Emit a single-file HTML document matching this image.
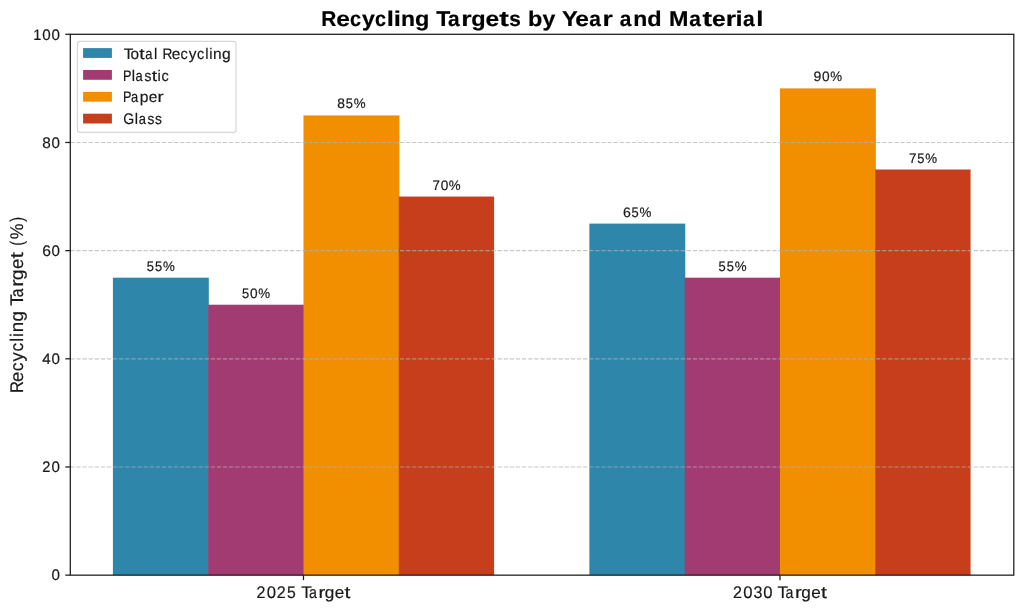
<!DOCTYPE html><html><head><meta charset="utf-8"><style>html,body{margin:0;padding:0;background:#fff;overflow:hidden;}svg{display:block;will-change:transform;}text{font-family:"Liberation Sans", sans-serif;text-rendering:geometricPrecision;white-space:pre;}</style></head><body>
<svg width="1024" height="611" viewBox="0 0 1024 611">
<rect x="0" y="0" width="1024" height="611" fill="#fff"/>
<rect x="112.90" y="277.68" width="95.90" height="297.47" fill="#2E86AB"/>
<rect x="589.38" y="223.60" width="95.90" height="351.55" fill="#2E86AB"/>
<rect x="208.20" y="304.72" width="95.90" height="270.43" fill="#A23B72"/>
<rect x="684.67" y="277.68" width="95.90" height="297.47" fill="#A23B72"/>
<rect x="303.49" y="115.43" width="95.90" height="459.72" fill="#F18F01"/>
<rect x="779.97" y="88.38" width="95.90" height="486.76" fill="#F18F01"/>
<rect x="398.79" y="196.55" width="95.30" height="378.60" fill="#C73E1D"/>
<rect x="875.26" y="169.51" width="95.30" height="405.64" fill="#C73E1D"/>
<line x1="70.30" y1="466.98" x2="1013.80" y2="466.98" stroke="#b0b0b0" stroke-opacity="0.7" stroke-width="1.15" stroke-dasharray="4.261 1.843"/>
<line x1="70.30" y1="358.81" x2="1013.80" y2="358.81" stroke="#b0b0b0" stroke-opacity="0.7" stroke-width="1.15" stroke-dasharray="4.261 1.843"/>
<line x1="70.30" y1="250.64" x2="1013.80" y2="250.64" stroke="#b0b0b0" stroke-opacity="0.7" stroke-width="1.15" stroke-dasharray="4.261 1.843"/>
<line x1="70.30" y1="142.47" x2="1013.80" y2="142.47" stroke="#b0b0b0" stroke-opacity="0.7" stroke-width="1.15" stroke-dasharray="4.261 1.843"/>
<g font-size="13.74" fill="#1a1a1a" stroke="#1a1a1a" stroke-width="0.2"><text transform="translate(146.74,270.68) scale(0.939,1)">5</text><text transform="translate(154.98,270.68) scale(0.939,1)">5</text><text transform="translate(162.98,270.68) scale(0.969,1)">%</text></g>
<g font-size="13.74" fill="#1a1a1a" stroke="#1a1a1a" stroke-width="0.2"><text transform="translate(622.96,216.60) scale(1.029,1)">6</text><text transform="translate(631.51,216.60) scale(0.939,1)">5</text><text transform="translate(639.51,216.60) scale(0.969,1)">%</text></g>
<g font-size="13.74" fill="#1a1a1a" stroke="#1a1a1a" stroke-width="0.2"><text transform="translate(242.03,297.72) scale(0.939,1)">5</text><text transform="translate(250.11,297.72) scale(0.994,1)">0</text><text transform="translate(258.28,297.72) scale(0.969,1)">%</text></g>
<g font-size="13.74" fill="#1a1a1a" stroke="#1a1a1a" stroke-width="0.2"><text transform="translate(718.51,270.68) scale(0.939,1)">5</text><text transform="translate(726.76,270.68) scale(0.939,1)">5</text><text transform="translate(734.76,270.68) scale(0.969,1)">%</text></g>
<g font-size="13.74" fill="#1a1a1a" stroke="#1a1a1a" stroke-width="0.2"><text transform="translate(337.18,108.43) scale(1.005,1)">8</text><text transform="translate(345.63,108.43) scale(0.939,1)">5</text><text transform="translate(353.64,108.43) scale(0.969,1)">%</text></g>
<g font-size="13.74" fill="#1a1a1a" stroke="#1a1a1a" stroke-width="0.2"><text transform="translate(813.57,81.38) scale(1.027,1)">9</text><text transform="translate(821.98,81.38) scale(0.994,1)">0</text><text transform="translate(830.15,81.38) scale(0.969,1)">%</text></g>
<g font-size="13.74" fill="#1a1a1a" stroke="#1a1a1a" stroke-width="0.2"><text transform="translate(432.49,189.55) scale(0.973,1)">7</text><text transform="translate(440.67,189.55) scale(0.994,1)">0</text><text transform="translate(448.84,189.55) scale(0.969,1)">%</text></g>
<g font-size="13.74" fill="#1a1a1a" stroke="#1a1a1a" stroke-width="0.2"><text transform="translate(908.96,162.51) scale(0.973,1)">7</text><text transform="translate(917.31,162.51) scale(0.939,1)">5</text><text transform="translate(925.32,162.51) scale(0.969,1)">%</text></g>
<rect x="70.30" y="34.30" width="943.50" height="540.85" fill="none" stroke="#1a1a1a" stroke-width="1.25"/>
<line x1="65.30" y1="575.15" x2="70.30" y2="575.15" stroke="#1a1a1a" stroke-width="1.25"/>
<g font-size="15.25" fill="#1a1a1a" stroke="#1a1a1a" stroke-width="0.2"><text transform="translate(51.46,580.40) scale(0.994,1)">0</text></g>
<line x1="65.30" y1="466.98" x2="70.30" y2="466.98" stroke="#1a1a1a" stroke-width="1.25"/>
<g font-size="15.25" fill="#1a1a1a" stroke="#1a1a1a" stroke-width="0.2"><text transform="translate(42.26,472.23) scale(0.959,1)">2</text><text transform="translate(51.46,472.23) scale(0.994,1)">0</text></g>
<line x1="65.30" y1="358.81" x2="70.30" y2="358.81" stroke="#1a1a1a" stroke-width="1.25"/>
<g font-size="15.25" fill="#1a1a1a" stroke="#1a1a1a" stroke-width="0.2"><text transform="translate(42.30,364.06) scale(0.995,1)">4</text><text transform="translate(51.46,364.06) scale(0.994,1)">0</text></g>
<line x1="65.30" y1="250.64" x2="70.30" y2="250.64" stroke="#1a1a1a" stroke-width="1.25"/>
<g font-size="15.25" fill="#1a1a1a" stroke="#1a1a1a" stroke-width="0.2"><text transform="translate(42.15,255.89) scale(1.029,1)">6</text><text transform="translate(51.46,255.89) scale(0.994,1)">0</text></g>
<line x1="65.30" y1="142.47" x2="70.30" y2="142.47" stroke="#1a1a1a" stroke-width="1.25"/>
<g font-size="15.25" fill="#1a1a1a" stroke="#1a1a1a" stroke-width="0.2"><text transform="translate(42.26,147.72) scale(1.005,1)">8</text><text transform="translate(51.46,147.72) scale(0.994,1)">0</text></g>
<line x1="65.30" y1="34.30" x2="70.30" y2="34.30" stroke="#1a1a1a" stroke-width="1.25"/>
<g font-size="15.25" fill="#1a1a1a" stroke="#1a1a1a" stroke-width="0.2"><text transform="translate(33.27,39.55) scale(0.950,1)">1</text><text transform="translate(42.30,39.55) scale(0.994,1)">0</text><text transform="translate(51.46,39.55) scale(0.994,1)">0</text></g>
<line x1="303.49" y1="575.15" x2="303.49" y2="580.15" stroke="#1a1a1a" stroke-width="1.25"/>
<g font-size="16.78" fill="#1a1a1a" stroke="#1a1a1a" stroke-width="0.2"><text transform="translate(256.61,597.80) scale(0.959,1)">2</text><text transform="translate(266.72,597.80) scale(0.994,1)">0</text><text transform="translate(276.75,597.80) scale(0.959,1)">2</text><text transform="translate(287.06,597.80) scale(0.939,1)">5</text><text transform="translate(301.14,597.80) scale(1.029,1)">T</text><text transform="translate(308.97,597.80) scale(0.848,1)">a</text><text transform="translate(318.41,597.80) scale(1.209,1)">r</text><text transform="translate(324.70,597.80) scale(1.025,1)">g</text><text transform="translate(334.75,597.80) scale(1.019,1)">e</text><text transform="translate(344.44,597.80) scale(1.261,1)">t</text></g>
<line x1="779.97" y1="575.15" x2="779.97" y2="580.15" stroke="#1a1a1a" stroke-width="1.25"/>
<g font-size="16.78" fill="#1a1a1a" stroke="#1a1a1a" stroke-width="0.2"><text transform="translate(733.08,597.80) scale(0.959,1)">2</text><text transform="translate(743.20,597.80) scale(0.994,1)">0</text><text transform="translate(753.47,597.80) scale(0.955,1)">3</text><text transform="translate(763.34,597.80) scale(0.994,1)">0</text><text transform="translate(777.62,597.80) scale(1.029,1)">T</text><text transform="translate(785.45,597.80) scale(0.848,1)">a</text><text transform="translate(794.89,597.80) scale(1.209,1)">r</text><text transform="translate(801.18,597.80) scale(1.025,1)">g</text><text transform="translate(811.23,597.80) scale(1.019,1)">e</text><text transform="translate(820.92,597.80) scale(1.261,1)">t</text></g>
<g transform="translate(22.90,304.75) rotate(-90)"><g font-size="18.31" fill="#1a1a1a" stroke="#1a1a1a" stroke-width="0.2"><text transform="translate(-88.19,0.00) scale(0.902,1)">R</text><text transform="translate(-77.15,0.00) scale(1.019,1)">e</text><text transform="translate(-66.47,0.00) scale(0.947,1)">c</text><text transform="translate(-56.72,0.00) scale(1.013,1)">y</text><text transform="translate(-46.75,0.00) scale(0.947,1)">c</text><text transform="translate(-37.04,0.00) scale(0.964,1)">l</text><text transform="translate(-32.23,0.00) scale(0.964,1)">i</text><text transform="translate(-27.55,0.00) scale(1.017,1)">n</text><text transform="translate(-16.77,0.00) scale(1.025,1)">g</text><text transform="translate(-0.95,0.00) scale(1.029,1)">T</text><text transform="translate(7.59,0.00) scale(0.848,1)">a</text><text transform="translate(17.89,0.00) scale(1.209,1)">r</text><text transform="translate(24.75,0.00) scale(1.025,1)">g</text><text transform="translate(35.71,0.00) scale(1.019,1)">e</text><text transform="translate(46.29,0.00) scale(1.261,1)">t</text><text transform="translate(59.02,0.00) scale(0.797,1)">(</text><text transform="translate(65.50,0.00) scale(0.969,1)">%</text><text transform="translate(82.88,0.00) scale(0.797,1)">)</text></g></g>
<g font-size="21.36" font-weight="bold" fill="#000" stroke="#000" stroke-width="0.2"><text transform="translate(321.16,25.60) scale(0.978,1)">R</text><text transform="translate(336.13,25.60) scale(1.147,1)">e</text><text transform="translate(349.98,25.60) scale(0.934,1)">c</text><text transform="translate(361.90,25.60) scale(1.080,1)">y</text><text transform="translate(375.06,25.60) scale(0.934,1)">c</text><text transform="translate(386.81,25.60) scale(1.202,1)">l</text><text transform="translate(393.72,25.60) scale(1.202,1)">i</text><text transform="translate(400.91,25.60) scale(1.074,1)">n</text><text transform="translate(415.01,25.60) scale(1.101,1)">g</text><text transform="translate(436.35,25.60) scale(1.076,1)">T</text><text transform="translate(447.91,25.60) scale(0.979,1)">a</text><text transform="translate(461.20,25.60) scale(1.244,1)">r</text><text transform="translate(471.14,25.60) scale(1.101,1)">g</text><text transform="translate(485.53,25.60) scale(1.147,1)">e</text><text transform="translate(499.20,25.60) scale(1.351,1)">t</text><text transform="translate(509.23,25.60) scale(0.975,1)">s</text><text transform="translate(528.07,25.60) scale(1.099,1)">b</text><text transform="translate(542.42,25.60) scale(1.080,1)">y</text><text transform="translate(561.90,25.60) scale(1.107,1)">Y</text><text transform="translate(575.15,25.60) scale(1.147,1)">e</text><text transform="translate(589.16,25.60) scale(0.979,1)">a</text><text transform="translate(602.45,25.60) scale(1.244,1)">r</text><text transform="translate(619.71,25.60) scale(0.979,1)">a</text><text transform="translate(633.23,25.60) scale(1.074,1)">n</text><text transform="translate(647.34,25.60) scale(1.099,1)">d</text><text transform="translate(669.12,25.60) scale(1.094,1)">M</text><text transform="translate(689.14,25.60) scale(0.979,1)">a</text><text transform="translate(702.40,25.60) scale(1.351,1)">t</text><text transform="translate(712.03,25.60) scale(1.147,1)">e</text><text transform="translate(725.73,25.60) scale(1.244,1)">r</text><text transform="translate(735.62,25.60) scale(1.202,1)">i</text><text transform="translate(742.88,25.60) scale(0.979,1)">a</text><text transform="translate(756.13,25.60) scale(1.202,1)">l</text></g>
<rect x="77.4" y="41.4" width="158.60" height="90.90" rx="2.6" ry="2.6" fill="#fff" fill-opacity="0.8" stroke="#cccccc" stroke-opacity="0.8" stroke-width="1.15"/>
<rect x="83.1" y="48.12" width="28.8" height="9.8" fill="#2E86AB"/>
<g font-size="15.25" fill="#1a1a1a" stroke="#1a1a1a" stroke-width="0.2"><text transform="translate(123.65,58.60) scale(1.029,1)">T</text><text transform="translate(130.54,58.60) scale(1.003,1)">o</text><text transform="translate(139.29,58.60) scale(1.261,1)">t</text><text transform="translate(145.15,58.60) scale(0.848,1)">a</text><text transform="translate(154.02,58.60) scale(0.964,1)">l</text><text transform="translate(162.51,58.60) scale(0.902,1)">R</text><text transform="translate(171.71,58.60) scale(1.019,1)">e</text><text transform="translate(180.61,58.60) scale(0.947,1)">c</text><text transform="translate(188.73,58.60) scale(1.013,1)">y</text><text transform="translate(197.04,58.60) scale(0.947,1)">c</text><text transform="translate(205.13,58.60) scale(0.964,1)">l</text><text transform="translate(209.14,58.60) scale(0.964,1)">i</text><text transform="translate(213.04,58.60) scale(1.017,1)">n</text><text transform="translate(222.02,58.60) scale(1.025,1)">g</text></g>
<rect x="83.1" y="69.98" width="28.8" height="9.8" fill="#A23B72"/>
<g font-size="15.25" fill="#1a1a1a" stroke="#1a1a1a" stroke-width="0.2"><text transform="translate(122.96,80.70) scale(0.834,1)">P</text><text transform="translate(131.63,80.70) scale(0.964,1)">l</text><text transform="translate(135.58,80.70) scale(0.848,1)">a</text><text transform="translate(144.48,80.70) scale(0.904,1)">s</text><text transform="translate(151.67,80.70) scale(1.261,1)">t</text><text transform="translate(157.59,80.70) scale(0.964,1)">i</text><text transform="translate(161.40,80.70) scale(0.947,1)">c</text></g>
<rect x="83.1" y="91.84" width="28.8" height="9.8" fill="#F18F01"/>
<g font-size="15.25" fill="#1a1a1a" stroke="#1a1a1a" stroke-width="0.2"><text transform="translate(122.96,102.05) scale(0.834,1)">P</text><text transform="translate(130.93,102.05) scale(0.848,1)">a</text><text transform="translate(139.73,102.05) scale(1.026,1)">p</text><text transform="translate(148.70,102.05) scale(1.019,1)">e</text><text transform="translate(157.51,102.05) scale(1.209,1)">r</text></g>
<rect x="83.1" y="113.70" width="28.8" height="9.8" fill="#C73E1D"/>
<g font-size="15.25" fill="#1a1a1a" stroke="#1a1a1a" stroke-width="0.2"><text transform="translate(123.29,123.60) scale(0.920,1)">G</text><text transform="translate(134.71,123.60) scale(0.964,1)">l</text><text transform="translate(138.66,123.60) scale(0.848,1)">a</text><text transform="translate(147.55,123.60) scale(0.904,1)">s</text><text transform="translate(155.05,123.60) scale(0.904,1)">s</text></g>
</svg></body></html>
